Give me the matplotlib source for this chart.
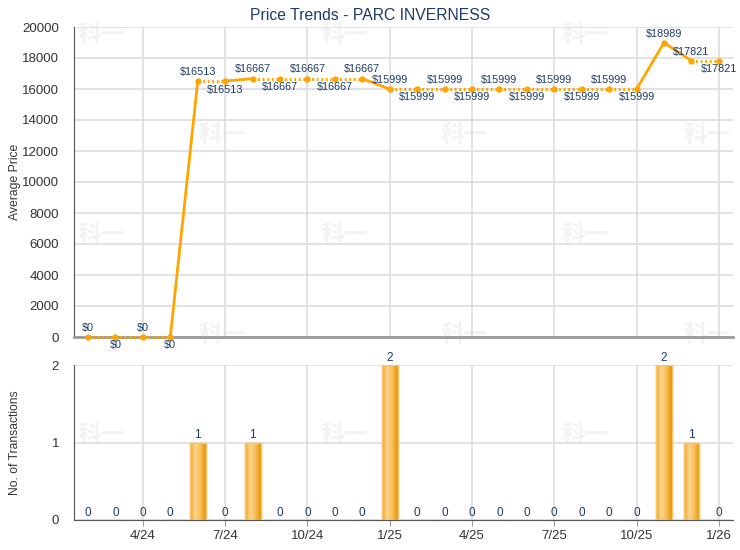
import numpy as np
import matplotlib
matplotlib.use('Agg')
import matplotlib.pyplot as plt
from matplotlib.colors import LinearSegmentedColormap

# ---- data ----
months = ['2/24', '3/24', '4/24', '5/24', '6/24', '7/24', '8/24', '9/24', '10/24', '11/24',
          '12/24', '1/25', '2/25', '3/25', '4/25', '5/25', '6/25', '7/25', '8/25', '9/25',
          '10/25', '11/25', '12/25', '1/26']
avg_price = [0, 0, 0, 0, 16513, 16513, 16667, 16667, 16667, 16667,
             16667, 15999, 15999, 15999, 15999, 15999, 15999, 15999, 15999, 15999,
             15999, 18989, 17821, 17821]
transactions = [0, 0, 0, 0, 1, 0, 1, 0, 0, 0,
                0, 2, 0, 0, 0, 0, 0, 0, 0, 0,
                0, 2, 1, 0]
tick_labels = ['4/24', '7/24', '10/24', '1/25', '4/25', '7/25', '10/25', '1/26']
title = 'Price Trends - PARC INVERNESS'

plt.rcParams['font.family'] = ['Liberation Sans', 'DejaVu Sans']

LINE = '#FFA500'
TXT = '#1c3b66'
TICK = '#333333'
GRID = '#dddddd'

x = np.arange(len(months))
tick_pos = [months.index(t) for t in tick_labels]

fig = plt.figure(figsize=(7.4, 5.5), dpi=100)
W, H = 740, 550
ax1 = fig.add_axes([74.3 / W, 1 - 337 / H, (732.6 - 74.3) / W, 310 / H])
ax2 = fig.add_axes([74.3 / W, 1 - 520 / H, (732.6 - 74.3) / W, 155 / H])

# faint watermarks
wm_rows = [35, 135, 235, 335, 435]
for r, yy in enumerate(wm_rows):
    xs = [101, 344, 585] if r % 2 == 0 else [222, 464, 707]
    for xx in xs:
        fig.text(xx / W, 1 - yy / H, '科一', family=['Noto Sans CJK SC', 'DejaVu Sans'],
                 fontsize=17, fontweight='bold', color='#f3f3f3', ha='center', va='center',
                 zorder=-1)

for ax in (ax1, ax2):
    ax.set_facecolor('none')
    ax.set_xlim(-0.5, len(months) - 0.5)
    ax.set_xticks(tick_pos)
    ax.grid(True, color=GRID, linewidth=1.2)
    ax.set_axisbelow(True)
    for s in ('top', 'right'):
        ax.spines[s].set_visible(False)
    ax.spines['left'].set_color('#555555')
    ax.tick_params(axis='y', length=0, pad=11, labelsize=9.5, labelcolor=TICK)

# ---- price line ----
ax1.set_ylim(0, 20000)
ax1.set_yticks(np.arange(0, 20001, 2000))
ax1.spines['bottom'].set_color('#9a9a9a')
ax1.spines['bottom'].set_linewidth(2)
ax1.tick_params(axis='x', length=0, labelbottom=False)
for i in range(1, len(x)):
    solid = transactions[i] > 0
    ax1.plot(x[i - 1:i + 1], avg_price[i - 1:i + 1], color=LINE,
             linewidth=2 if solid else 2.2,
             linestyle='-' if solid else (0, (0.6, 0.9)),
             solid_capstyle='round', zorder=3, clip_on=False)
ax1.plot(x, avg_price, linestyle='none', marker='o', markersize=3.6, color=LINE,
         zorder=4, clip_on=False)

# label placement: alternate above/below within runs of equal values
above = True
for i, v in enumerate(avg_price):
    if i == 0 or v != avg_price[i - 1]:
        above = True
    else:
        above = not above
    if above:
        ax1.annotate(f'${v}', (x[i], v), xytext=(0, 3), textcoords='offset points',
                     ha='center', va='bottom', fontsize=7.8, color=TXT, zorder=5,
                     annotation_clip=False)
    else:
        ax1.annotate(f'${v}', (x[i], v), xytext=(0, -2.5), textcoords='offset points',
                     ha='center', va='top', fontsize=7.8, color=TXT, zorder=5,
                     annotation_clip=False)
ax1.set_ylabel('Average Price', fontsize=8.7, color=TICK)
ax1.yaxis.set_label_coords(-(74.3 - 21) / (732.6 - 74.3), 0.5)

# ---- transactions bars ----
ax2.set_ylim(0, 2)
ax2.set_yticks([0, 1, 2])
ax2.spines['bottom'].set_color('#555555')
ax2.tick_params(axis='x', length=4, color='#999999', labelsize=9.5, labelcolor=TICK, pad=3)
ax2.set_xticklabels(tick_labels)
bw = 0.58
bars = ax2.bar(x, transactions, width=bw, color='#f3b13f', edgecolor='#f7c56a',
               linewidth=1, zorder=2)
cmap = LinearSegmentedColormap.from_list('g', ['#f0a52a', '#fcd58e', '#f6bd55', '#e69300'])
grad = np.linspace(0, 1, 64).reshape(1, -1)
for b, xi, h in zip(bars, x, transactions):
    if h > 0:
        im = ax2.imshow(grad, extent=[xi - bw / 2, xi + bw / 2, 0, h], aspect='auto',
                        cmap=cmap, zorder=2.5)
        im.set_clip_path(b)
        ax2.bar([xi], [h], width=bw, facecolor='none', edgecolor='#f7c56a', linewidth=1, zorder=3)
    ax2.annotate(str(h), (xi, h), xytext=(0, 1), textcoords='offset points',
                 ha='center', va='bottom', fontsize=8.5, color=TXT, zorder=5,
                 annotation_clip=False)
ax2.set_xlim(-0.5, len(months) - 0.5)
ax2.set_ylim(0, 2)
ax2.set_ylabel('No. of Transactions', fontsize=8.7, color=TICK)
ax2.yaxis.set_label_coords(-(74.3 - 21) / (732.6 - 74.3), 0.5)

fig.text(370 / W, 1 - 16 / H, title, ha='center', va='center', fontsize=11.3, color=TXT)

fig.savefig('out.png', dpi=100)
